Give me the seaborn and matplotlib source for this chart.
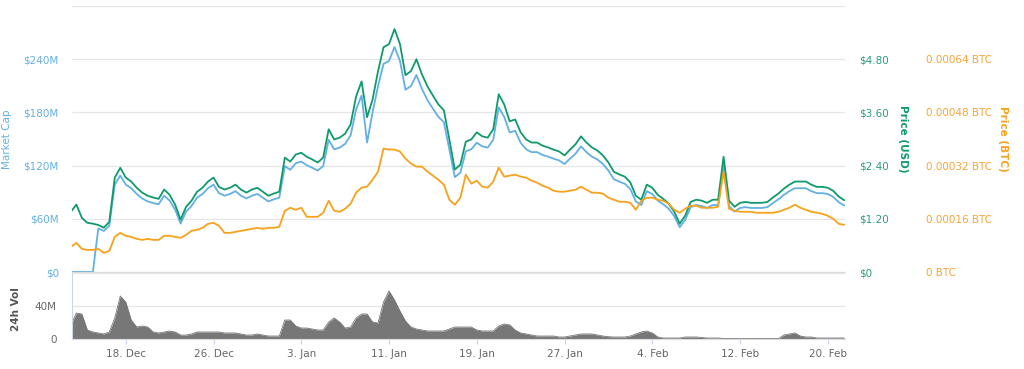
import pandas as pd
import matplotlib
matplotlib.use("Agg")
import matplotlib.pyplot as plt
import seaborn as sns

# half-day samples starting 13 Dec 2017
start_date = "2017-12-13"

market_cap_m = [
    0, 0, 0, 0, 0, 49.1, 46.3, 52.3, 98.6, 108.8,
    98.6, 94.5, 88.0, 82.9, 79.6, 77.8, 76.4, 86.1, 80.6, 70.4,
    54.6, 68.1, 74.5, 83.8, 88.0, 94.5, 98.6, 88.9, 86.1, 88.0,
    91.2, 86.1, 82.9, 86.1, 88.0, 83.8, 79.6, 82.0, 83.8, 119.5,
    115.3, 122.7, 124.5, 120.4, 117.6, 114.4, 119.5, 149.1, 138.4, 140.3,
    144.5, 154.2, 183.3, 199.1, 146.0, 180.1, 209.7, 234.7, 238.0, 253.7,
    238.0, 205.6, 209.7, 222.2, 206.5, 194.0, 184.3, 175.0, 169.0, 138.4,
    107.0, 112.0, 136.1, 138.4, 145.8, 141.7, 140.3, 149.1, 185.7, 175.0,
    157.4, 159.3, 145.8, 138.4, 135.2, 135.2, 132.0, 130.1, 127.8, 125.9,
    121.8, 127.8, 133.3, 141.7, 135.2, 130.1, 126.9, 121.8, 114.4, 104.6,
    101.9, 99.5, 93.5, 79.6, 75.5, 91.2, 88.0, 80.6, 76.4, 71.3,
    63.0, 50.5, 58.8, 73.2, 75.5, 74.5, 72.2, 75.5, 75.5, 120.0,
    74.5, 68.1, 72.2, 73.2, 72.2, 72.2, 72.2, 73.2, 77.8, 82.0,
    87.0, 91.2, 94.5, 94.5, 94.5, 91.2, 88.9, 88.9, 88.0, 84.7,
    78.7, 75.0,
]

price_usd = [
    1.36, 1.52, 1.22, 1.11, 1.09, 1.06, 1.00, 1.13, 2.13, 2.35,
    2.13, 2.04, 1.90, 1.79, 1.72, 1.68, 1.65, 1.86, 1.74, 1.52,
    1.18, 1.47, 1.61, 1.81, 1.90, 2.04, 2.13, 1.92, 1.86, 1.90,
    1.97, 1.86, 1.79, 1.86, 1.90, 1.81, 1.72, 1.77, 1.81, 2.58,
    2.49, 2.65, 2.69, 2.60, 2.54, 2.47, 2.58, 3.22, 2.99, 3.03,
    3.12, 3.33, 3.96, 4.30, 3.49, 3.89, 4.53, 5.07, 5.14, 5.48,
    5.14, 4.44, 4.53, 4.80, 4.46, 4.19, 3.98, 3.78, 3.65, 2.99,
    2.31, 2.42, 2.94, 2.99, 3.15, 3.06, 3.03, 3.22, 4.01, 3.78,
    3.40, 3.44, 3.15, 2.99, 2.92, 2.92, 2.85, 2.81, 2.76, 2.72,
    2.63, 2.76, 2.88, 3.06, 2.92, 2.81, 2.74, 2.63, 2.47, 2.26,
    2.20, 2.15, 2.02, 1.72, 1.63, 1.97, 1.90, 1.74, 1.65, 1.54,
    1.36, 1.09, 1.27, 1.58, 1.63, 1.61, 1.56, 1.63, 1.63, 2.60,
    1.61, 1.47, 1.56, 1.58, 1.56, 1.56, 1.56, 1.58, 1.68, 1.77,
    1.88, 1.97, 2.04, 2.04, 2.04, 1.97, 1.92, 1.92, 1.90, 1.83,
    1.70, 1.62,
]

# price in units of 0.00001 BTC
price_btc_e5 = [
    7.55, 8.75, 6.94, 6.64, 6.64, 6.94, 5.74, 6.34, 10.57, 11.77,
    10.87, 10.57, 9.96, 9.66, 9.96, 9.66, 9.66, 10.87, 10.87, 10.57,
    10.26, 11.17, 12.38, 12.68, 13.28, 14.49, 14.79, 13.89, 11.77, 11.77,
    12.08, 12.38, 12.68, 12.98, 13.28, 12.98, 13.28, 13.28, 13.59, 18.42,
    19.32, 18.72, 19.32, 16.60, 16.60, 16.60, 17.81, 21.43, 18.42, 18.11,
    19.02, 20.53, 23.85, 25.36, 25.66, 27.77, 30.19, 37.13, 36.83, 36.83,
    36.23, 34.11, 32.60, 31.70, 31.70, 30.19, 28.98, 27.77, 26.26, 21.74,
    20.23, 22.34, 29.28, 26.57, 27.47, 25.66, 25.36, 27.17, 31.40, 28.68,
    28.98, 29.28, 28.68, 28.38, 27.47, 26.87, 25.96, 25.36, 24.45, 24.15,
    24.15, 24.45, 24.75, 25.66, 24.75, 23.85, 23.85, 23.55, 22.34, 21.74,
    21.13, 21.13, 20.83, 18.72, 21.43, 22.34, 22.34, 21.74, 21.43, 20.53,
    18.72, 17.81, 19.02, 19.92, 19.92, 19.32, 19.32, 19.32, 19.62, 30.19,
    19.02, 18.42, 18.11, 18.11, 18.11, 17.81, 17.81, 17.81, 17.81, 18.11,
    18.72, 19.32, 20.23, 19.32, 18.72, 18.11, 17.81, 17.51, 16.91, 16.00,
    14.49, 14.20,
]

volume_m = [
    17.0, 31.5, 30.3, 10.9, 8.5, 7.3, 6.1, 8.5, 25.5, 52.1,
    44.8, 23.0, 14.5, 15.8, 14.5, 8.5, 7.3, 8.5, 9.7, 8.5,
    4.8, 4.8, 6.1, 8.5, 8.5, 8.5, 8.5, 8.5, 7.3, 7.3,
    7.3, 6.1, 4.8, 4.8, 6.1, 4.8, 3.6, 3.6, 3.6, 23.0,
    23.0, 15.8, 13.3, 13.3, 12.1, 10.9, 10.9, 20.6, 25.5, 20.6,
    13.3, 14.5, 25.5, 30.3, 30.3, 20.6, 19.4, 44.8, 58.2, 47.3,
    33.9, 21.8, 14.5, 12.1, 10.9, 9.7, 9.7, 9.7, 9.7, 12.1,
    14.5, 14.5, 14.5, 14.5, 10.9, 9.7, 9.7, 9.7, 15.8, 18.2,
    17.0, 10.9, 7.3, 6.1, 4.8, 3.6, 3.6, 3.6, 3.6, 2.4,
    2.4, 3.6, 4.8, 6.1, 6.1, 6.1, 4.8, 3.6, 2.8, 2.4,
    2.4, 2.4, 3.6, 6.1, 8.5, 9.7, 7.3, 2.4, 1.2, 1.2,
    1.2, 1.2, 2.4, 2.4, 2.4, 1.8, 1.2, 1.2, 1.2, 0.6,
    0.5, 0.5, 0.5, 0.5, 0.5, 0.5, 0.5, 0.5, 0.5, 0.5,
    4.8, 6.1, 7.3, 3.6, 2.4, 2.4, 1.2, 1.2, 1.2, 1.2,
    1.2, 1.2,
]

tick_dates = ["2017-12-18", "2017-12-26", "2018-01-03", "2018-01-11", "2018-01-19",
              "2018-01-27", "2018-02-04", "2018-02-12", "2018-02-20"]
tick_labels = ["18. Dec", "26. Dec", "3. Jan", "11. Jan", "19. Jan",
               "27. Jan", "4. Feb", "12. Feb", "20. Feb"]

mcap_ticks = [0, 60, 120, 180, 240, 300]
mcap_labels = ["$0", "$60M", "$120M", "$180M", "$240M", ""]
usd_ticks = [0, 1.2, 2.4, 3.6, 4.8, 6.0]
usd_labels = ["$0", "$1.20", "$2.40", "$3.60", "$4.80", ""]
btc_ticks = [0, 0.00016, 0.00032, 0.00048, 0.00064, 0.0008]
btc_labels = ["0 BTC", "0.00016 BTC", "0.00032 BTC", "0.00048 BTC", "0.00064 BTC", ""]
vol_ticks = [0, 40, 80]
vol_labels = ["0", "40M", ""]

BLUE = "#62b0e4"
GREEN = "#0f9a6c"
ORANGE = "#f7a21b"
GRID = "#e6e6e6"
AXIS = "#ccd6eb"

df = pd.DataFrame({
    "date": pd.date_range(start_date, periods=len(price_usd), freq="12h"),
    "mcap": [v * 1e6 for v in market_cap_m],
    "usd": price_usd,
    "btc": [v * 1e-5 for v in price_btc_e5],
    "vol": [v * 1e6 for v in volume_m],
})

sns.set_style("white")
plt.rcParams["font.family"] = ["DejaVu Sans"]

fig = plt.figure(figsize=(10.24, 3.69), dpi=100)
W, H = 1024, 369
ax = fig.add_axes([72 / W, 97 / H, 773 / W, 266 / H])
axv = fig.add_axes([72 / W, 30 / H, 773 / W, 66 / H], sharex=ax)

x0 = pd.Timestamp(start_date) + pd.Timedelta(days=0.1)
x1 = x0 + pd.Timedelta(days=70.47)

# market cap (left axis)
sns.lineplot(data=df, x="date", y="mcap", ax=ax, color=BLUE, lw=1.3)
ax.set_ylim(0, 300e6)
ax.set_yticks([t * 1e6 for t in mcap_ticks])
ax.set_yticklabels(mcap_labels)
ax.grid(axis="y", color=GRID, lw=0.9)
ax.set_axisbelow(True)
ax.tick_params(axis="y", length=0, labelsize=7.5, labelcolor=BLUE, pad=9.5)
ax.tick_params(axis="x", length=0, labelbottom=False)
ax.set_xlabel("")
ax.set_ylabel("Market Cap", color=BLUE, fontsize=7.5)
ax.yaxis.set_label_coords(-0.078, 0.5)

# price usd
ax2 = ax.twinx()
sns.lineplot(data=df, x="date", y="usd", ax=ax2, color=GREEN, lw=1.3)
ax2.set_ylim(0, 6.0)
ax2.set_yticks(usd_ticks)
ax2.set_yticklabels(usd_labels)
ax2.tick_params(axis="y", length=0, labelsize=7.5, labelcolor="#2b9a7c", pad=10)
ax2.set_ylabel("Price (USD)", color=GREEN, fontsize=7.5, fontweight="bold", rotation=270)
ax2.yaxis.set_label_coords(1.081, 0.5)

# price btc
ax3 = ax.twinx()
sns.lineplot(data=df, x="date", y="btc", ax=ax3, color=ORANGE, lw=1.3)
ax3.set_ylim(0, 0.0008)
ax3.set_yticks(btc_ticks)
ax3.set_yticklabels(btc_labels)
ax3.tick_params(axis="y", length=0, labelsize=7.5, labelcolor="#f5a53a", pad=58)
ax3.set_ylabel("Price (BTC)", color=ORANGE, fontsize=7.5, fontweight="bold", rotation=270)
ax3.yaxis.set_label_coords(1.211, 0.5)

for a in (ax, ax2, ax3):
    for s in a.spines.values():
        s.set_visible(False)
ax.spines["bottom"].set_visible(True)
ax.spines["bottom"].set_color("#dcdcdc")

# 24h volume
sns.lineplot(data=df, x="date", y="vol", ax=axv, color="#777777", lw=0.6)
axv.fill_between(df["date"], 0, df["vol"], color="#777777", lw=0)
axv.set_ylim(0, 80e6)
axv.set_yticks([t * 1e6 for t in vol_ticks])
axv.set_yticklabels(vol_labels)
axv.grid(axis="y", color=GRID, lw=0.9)
axv.set_axisbelow(True)
axv.tick_params(axis="y", length=0, labelsize=7.5, labelcolor="#666666", pad=11)
axv.set_ylabel("24h Vol", color="#555555", fontsize=7.5, fontweight="bold")
axv.yaxis.set_label_coords(-0.066, 0.45)
for s in axv.spines.values():
    s.set_visible(False)
axv.spines["left"].set_visible(True)
axv.spines["left"].set_color(AXIS)
axv.spines["bottom"].set_visible(True)
axv.spines["bottom"].set_color("#dcdcdc")

axv.set_xlim(x0, x1)
axv.set_xticks(pd.to_datetime(tick_dates))
axv.set_xticklabels(tick_labels)
axv.tick_params(axis="x", direction="out", length=3.5, color=AXIS, labelsize=7.5,
                labelcolor="#666666", pad=4, bottom=True)
axv.set_xlabel("")

fig.savefig("out.png", dpi=100)
